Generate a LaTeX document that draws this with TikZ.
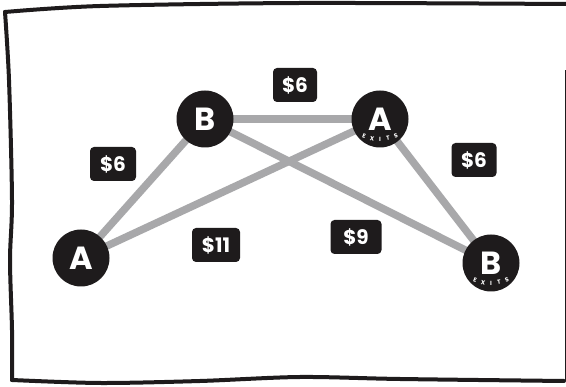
\documentclass[tikz,border=0pt]{standalone}
\usepackage{fontspec}
\setmainfont{Poppins}
\usetikzlibrary{backgrounds,calc}
\definecolor{edgegray}{HTML}{A8A8AA}
\definecolor{ink}{HTML}{1E1B1C}
\tikzset{
  city/.style={circle, fill=ink, minimum size=57pt, inner sep=0pt, text=white, font=\fontsize{32}{32}\selectfont\bfseries},
  price/.style={fill=ink, rounded corners=4pt, text=white, minimum height=34pt, inner sep=3pt, font=\fontsize{20}{20}\selectfont\bfseries},
  road/.style={draw=edgegray, line width=7.5pt},
  framepen/.style={draw=ink, line width=4pt, line join=round, line cap=round},
  exitletter/.style={text=white, inner sep=0pt, font=\fontsize{6}{6}\selectfont\bfseries}
}
\begin{document}
\begin{tikzpicture}[x=1pt,y=-1pt]
\useasboundingbox (0,0) rectangle (566,387);
% frame
\draw[framepen] plot[smooth] coordinates {(5,12) (100,6) (300,3) (566,4)};
\draw[framepen] plot[smooth] coordinates {(5,12) (9,80) (12,200) (10,260) (12,330) (12,380)};
\draw[framepen] plot[smooth] coordinates {(12,380) (100,383) (200,381) (300,377) (400,379) (564,381)};
\draw[draw=ink, line width=3pt] (566,381) -- (566,70);
% cities
\node[city] (bt) at (205,119) {B};
\node[city] (at) at (380,119) {A};
\node[city] (al) at (81,258) {A};
\node[city] (br) at (491,263) {B};
\node[exitletter, rotate=-20] at ($(at.center)+(-16,17)$) {E};
\node[exitletter, rotate=-10] at ($(at.center)+(-8,19.5)$) {X};
\node[exitletter] at ($(at.center)+(0,20.3)$) {I};
\node[exitletter, rotate=10] at ($(at.center)+(8,19.5)$) {T};
\node[exitletter, rotate=20] at ($(at.center)+(16,17)$) {S};
\node[exitletter, rotate=-20] at ($(br.center)+(-16,17)$) {E};
\node[exitletter, rotate=-10] at ($(br.center)+(-8,19.5)$) {X};
\node[exitletter] at ($(br.center)+(0,20.3)$) {I};
\node[exitletter, rotate=10] at ($(br.center)+(8,19.5)$) {T};
\node[exitletter, rotate=20] at ($(br.center)+(16,17)$) {S};
% roads
\begin{scope}[on background layer]
\fill[white] (0,0) rectangle (566,387);
\draw[road] (bt.center) -- (at.center);
\draw[road] (bt.center) -- (al.center);
\draw[road] (al.center) -- (at.center);
\draw[road] (bt.center) -- (br.center);
\draw[road] (at.center) -- (br.center);
\end{scope}
% prices
\node[price, minimum width=44pt] (p1) at (295,85) {\$6};
\node[price, minimum width=46pt] (p2) at (113,164) {\$6};
\node[price, minimum width=48pt] (p3) at (216,245) {\$11};
\node[price, minimum width=45pt] (p4) at (474,160) {\$6};
\node[price, minimum width=51pt] (p5) at (356,237) {\$9};
\end{tikzpicture}
\end{document}
